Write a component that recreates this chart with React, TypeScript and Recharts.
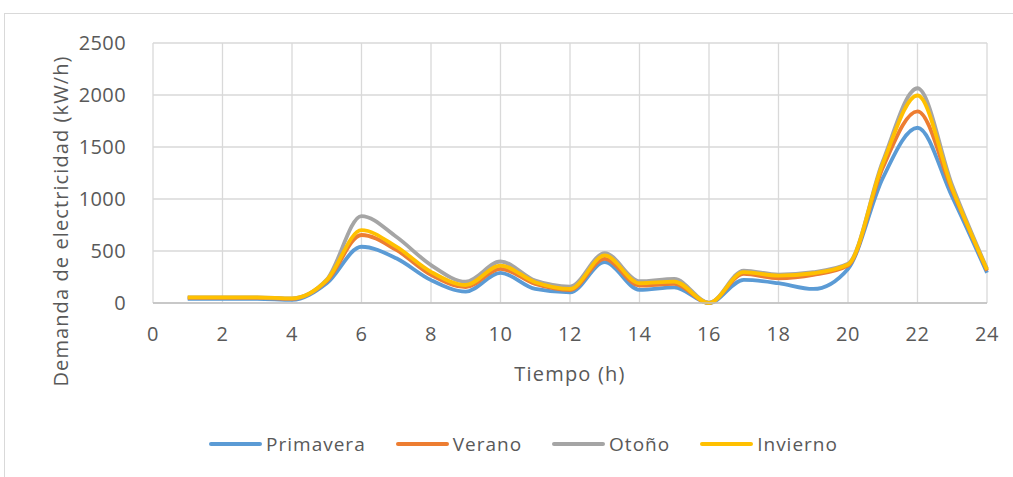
import React from "react";
import { LineChart, Line, XAxis, YAxis, CartesianGrid, Legend } from "recharts";

const hours = [1, 2, 3, 4, 5, 6, 7, 8, 9, 10, 11, 12, 13, 14, 15, 16, 17, 18, 19, 20, 21, 22, 23, 24];
const primavera = [40, 40, 40, 30, 190, 541, 430, 220, 110, 290, 135, 102, 393, 126, 151, 0, 222, 190, 135, 328, 1200, 1685, 1020, 290];
const verano = [50, 50, 50, 40, 210, 654, 510, 270, 154, 328, 183, 125, 425, 167, 183, 0, 280, 238, 270, 360, 1300, 1843, 1080, 310];
const otono = [55, 55, 55, 45, 225, 836, 637, 365, 205, 399, 215, 158, 480, 209, 232, 0, 312, 273, 296, 377, 1360, 2065, 1130, 330];
const invierno = [55, 55, 55, 45, 220, 700, 541, 300, 173, 360, 200, 135, 457, 190, 206, 0, 296, 264, 286, 370, 1340, 1995, 1100, 320];
const xTicks = [0, 2, 4, 6, 8, 10, 12, 14, 16, 18, 20, 22, 24];
const yTicks = [0, 500, 1000, 1500, 2000, 2500];

const seriesNames = ["Primavera", "Verano", "Otoño", "Invierno"];
const seriesColors = ["#5B9BD5", "#ED7D31", "#A5A5A5", "#FFC000"];
const seriesKeys = ["p", "v", "o", "i"];

const data = hours.map((h, idx) => ({
  h,
  p: primavera[idx],
  v: verano[idx],
  o: otono[idx],
  i: invierno[idx],
}));

const FONT = "'Open Sans', sans-serif";
const TXT = "#595959";

const LegendContent = () => (
  <div style={{ display: "flex", justifyContent: "center", alignItems: "center", height: 30, fontFamily: FONT, fontSize: 19, letterSpacing: 1, color: TXT }}>
    {seriesNames.map((n, k) => (
      <div key={n} style={{ display: "flex", alignItems: "center", marginRight: k < 3 ? 30 : 0 }}>
        <div style={{ width: 53, height: 4, borderRadius: 2, background: seriesColors[k], marginRight: 4 }} />
        <span>{n}</span>
      </div>
    ))}
  </div>
);

const YLabel = () => (
  <text x={60} y={221} transform="rotate(-90 60 221)" textAnchor="middle" dominantBaseline="central" fill={TXT} fontSize={20} letterSpacing={1.1} fontFamily={FONT}>
    Demanda de electricidad (kW/h)
  </text>
);

const XLabel = () => (
  <text x={570} y={373} textAnchor="middle" dominantBaseline="central" fill={TXT} fontSize={20} letterSpacing={1.2} fontFamily={FONT}>
    Tiempo (h)
  </text>
);

export default function App() {
  return (
    <div style={{ position: "absolute", left: 0, top: 0, width: 1013, height: 477, background: "#fff", overflow: "hidden" }}>
      <div style={{ position: "absolute", left: 4, top: 13, width: 1020, height: 480, border: "1px solid #d9d9d9", boxSizing: "border-box" }} />
      <div style={{ position: "absolute", left: 0, top: 0 }}>
        <LineChart width={1013} height={477} data={data} margin={{ top: 43, right: 26, bottom: 54, left: 73 }}>
          <CartesianGrid stroke="#d9d9d9" strokeWidth={1.3} verticalValues={xTicks} horizontalValues={yTicks} />
          <XAxis
            dataKey="h"
            type="number"
            domain={[0, 24]}
            ticks={xTicks}
            tickLine={false}
            axisLine={{ stroke: "#bfbfbf", strokeWidth: 1.5 }}
            height={90}
            tick={{ fill: TXT, fontSize: 20, fontFamily: FONT, letterSpacing: 0.5 }}
            tickMargin={18}
            label={<XLabel />}
          />
          <YAxis
            type="number"
            domain={[0, 2500]}
            ticks={yTicks}
            tickLine={false}
            axisLine={false}
            width={80}
            tick={{ fill: TXT, fontSize: 20, fontFamily: FONT, letterSpacing: 0.4 }}
            tickMargin={21}
            label={<YLabel />}
          />
          <Legend content={<LegendContent />} wrapperStyle={{ position: "absolute", top: 429, left: 17, width: 1013, height: 30 }} />
          {seriesKeys.map((k, idx) => (
            <Line
              key={k}
              dataKey={k}
              name={seriesNames[idx]}
              type="monotone"
              stroke={seriesColors[idx]}
              strokeWidth={3.8}
              dot={false}
              isAnimationActive={false}
            />
          ))}
        </LineChart>
      </div>
    </div>
  );
}
